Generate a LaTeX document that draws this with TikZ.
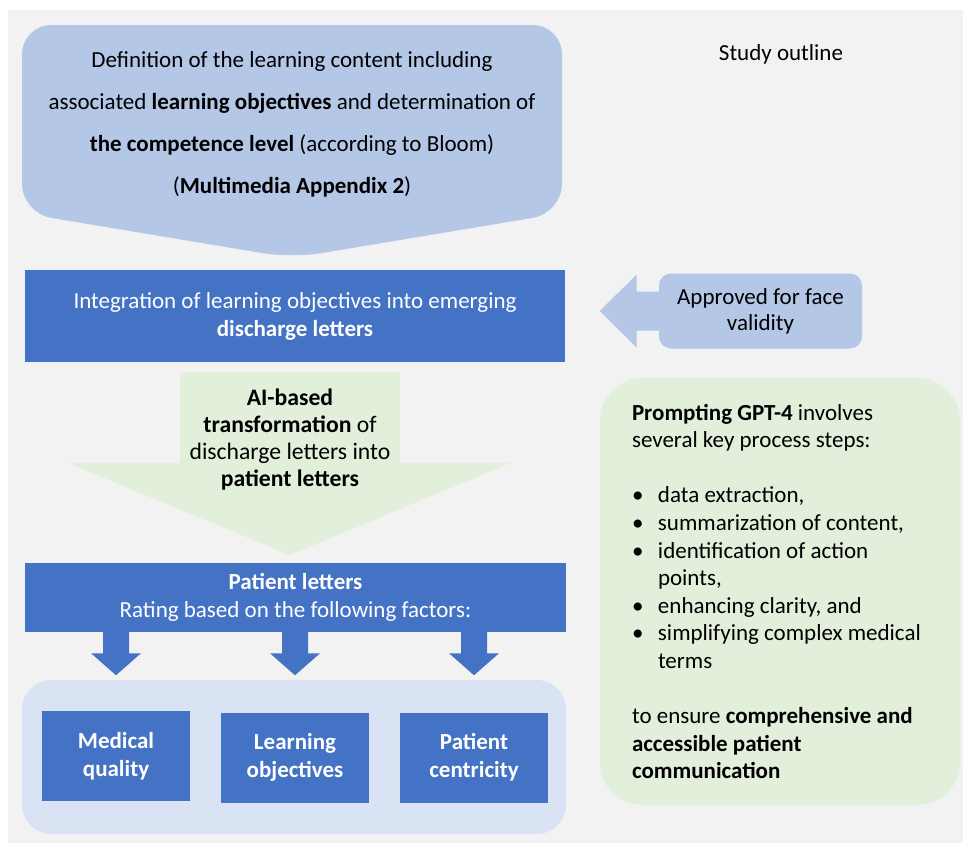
\documentclass[tikz,border=0pt]{standalone}
\usepackage{fontspec}
\setmainfont{Carlito}
\usetikzlibrary{calc}
\definecolor{bggray}{HTML}{F2F2F2}
\definecolor{lightblue}{HTML}{B4C7E7}
\definecolor{darkblue}{HTML}{4472C4}
\definecolor{lightgreen}{HTML}{E2EFDA}
\definecolor{paleblue}{HTML}{DAE3F3}

\begin{document}
\begin{tikzpicture}[x=0.75pt, y=-0.75pt,
bluebox/.style={fill=darkblue, text=white, align=center, inner sep=0pt, font=\fontsize{17.25}{21}\selectfont},
factorbox/.style={bluebox, minimum width=111pt, minimum height=67.5pt, font=\fontsize{17.25}{21}\selectfont\bfseries},
plaintext/.style={align=center, inner sep=0pt, font=\fontsize{17.25}{20.25}\selectfont}
]
        \useasboundingbox (0,0) rectangle (963,843);
        \fill[bggray] (8,10) rectangle (963,843);

        % learning content
        \fill[lightblue, rounded corners=22pt] (292,258) -- (22,213) -- (22,25) -- (562,25) -- (562,213) -- cycle;
        \node[plaintext, font=\fontsize{17.25}{31.5}\selectfont] (defn) at (292,124) {Definition of the learning content including\\associated \textbf{learning objectives} and determination of\\\textbf{the competence level} (according to Bloom)\\(\textbf{Multimedia Appendix 2})};

        \node[plaintext] (outline) at (781,54) {Study outline};

        \node[bluebox, minimum width=405pt, minimum height=69pt] (integ) at (295,316) {Integration of learning objectives into emerging\\\textbf{discharge letters}};

        % face validity
        \node[fill=lightblue, rounded corners=9pt, minimum width=152.25pt, minimum height=56.25pt, align=center, inner sep=0pt, font=\fontsize{17.25}{19.5}\selectfont] (valid) at (760.5,311) {Approved for face\\validity};
        \fill[lightblue] ($(valid.west)+(4,-19.5)$) -- ++(-26,0) -- ++(0,-17) -- ++(-37,36.5) -- ++(37,36.5) -- ++(0,-17) -- ++(26,0) -- cycle;

        % AI arrow
        \coordinate (aitop) at (290,372);
        \coordinate (aitip) at (290,555);
        \fill[lightgreen] ($(aitop)+(-110,0)$) -- ++(220,0) -- ++(0,91) -- ++(110,0) -- (aitip) -- ++(-222,-92) -- ++(112,0) -- cycle;
        \node[plaintext, font=\fontsize{17.75}{20.25}\selectfont] (ai) at (290,440) {\textbf{AI-based}\\\textbf{transformation} of\\discharge letters into\\\textbf{patient letters}};

        \node[bluebox, minimum width=405.75pt, minimum height=51.75pt] (plet) at (295.5,597.5) {\textbf{Patient letters}\\Rating based on the following factors:};

        % factors
        \fill[paleblue, rounded corners=22pt] (22,680) rectangle (566,834);
        \node[factorbox] (fa) at (116,756) {Medical\\quality};
        \node[factorbox] (fb) at (295,757.5) {Learning\\objectives};
        \node[factorbox] (fc) at (474,757.5) {Patient\\centricity};
        \foreach \f in {fa,fb,fc}
          \fill[darkblue] ($(plet.south -| \f)+(-13,-1)$) -- ++(26,0) -- ++(0,22) -- ++(12,0) -- ++(-25,22) -- ++(-25,-22) -- ++(12,0) -- cycle;

        % GPT-4 steps
        \node[fill=lightgreen, rounded corners=32pt, minimum width=270pt, minimum height=320.25pt] (gptbox) at (780,591.5) {};
        \node[anchor=west, align=left, inner sep=0pt, font=\fontsize{17.25}{20.7}\selectfont] (gpttext) at ($(gptbox.west)+(32,0)$) {\textbf{Prompting GPT-4} involves\\several key process steps:\\[20.7pt]
\makebox[19.5pt][l]{\textbullet}data extraction,\\
\makebox[19.5pt][l]{\textbullet}summarization of content,\\
\makebox[19.5pt][l]{\textbullet}identification of action\\
\hspace*{19.5pt}points,\\
\makebox[19.5pt][l]{\textbullet}enhancing clarity, and\\
\makebox[19.5pt][l]{\textbullet}simplifying complex medical\\
\hspace*{19.5pt}terms\\[20.7pt]
to ensure \textbf{comprehensive and}\\\textbf{accessible patient}\\\textbf{communication}};

\end{tikzpicture}
\end{document}
